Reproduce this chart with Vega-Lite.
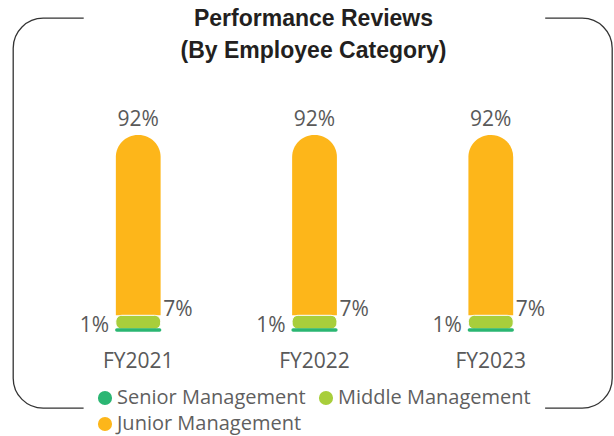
{
  "$schema": "https://vega.github.io/schema/vega-lite/v6.json",
  "width": 599,
  "height": 390,
  "autosize": {"type": "none"},
  "padding": {"left": 13, "top": 18, "right": 2, "bottom": 28},
  "background": "white",
  "title": {
    "text": ["Performance Reviews", "(By Employee Category)"],
    "anchor": "middle",
    "font": "Liberation Sans",
    "fontSize": 23,
    "fontWeight": "bold",
    "color": "#231F20",
    "lineHeight": 32,
    "baseline": "alphabetic",
    "offset": -63,
    "dx": 1
  },
  "data": {
    "values": [
      {"year": "FY2021", "category": "Senior Management", "value": 1},
      {"year": "FY2021", "category": "Middle Management", "value": 7},
      {"year": "FY2021", "category": "Junior Management", "value": 92},
      {"year": "FY2022", "category": "Senior Management", "value": 1},
      {"year": "FY2022", "category": "Middle Management", "value": 7},
      {"year": "FY2022", "category": "Junior Management", "value": 92},
      {"year": "FY2023", "category": "Senior Management", "value": 1},
      {"year": "FY2023", "category": "Middle Management", "value": 7},
      {"year": "FY2023", "category": "Junior Management", "value": 92}
    ]
  },
  "transform": [
    {"stack": "value", "groupby": ["year"], "sort": [{"field": "category", "order": "descending"}], "as": ["v0", "v1"]},
    {"calculate": "datum.value + '%'", "as": "label"}
  ],
  "encoding": {
    "x": {
      "field": "year",
      "type": "nominal",
      "scale": {"paddingInner": 0.746, "paddingOuter": 0.572, "align": 0.51},
      "axis": {
        "title": null,
        "domain": false,
        "ticks": false,
        "tickSize": 0,
        "labelPadding": 0,
        "labelAngle": 0,
        "labelBaseline": "alphabetic",
        "offset": -41,
        "labelFont": "Open Sans",
        "labelFontSize": 21,
        "labelColor": "#595959",
        "grid": false
      }
    },
    "y": {
      "field": "v1",
      "type": "quantitative",
      "scale": {"domain": [-39.29, 159.69], "nice": false, "zero": false},
      "axis": null
    }
  },
  "layer": [
    {
      "transform": [{"filter": "datum.category === 'Junior Management'"}],
      "mark": {"type": "bar", "cornerRadiusTopLeft": 22, "cornerRadiusTopRight": 22},
      "encoding": {
        "y": {"field": "v1", "type": "quantitative"},
        "y2": {"field": "v0"},
        "color": {
          "field": "category",
          "type": "nominal",
          "scale": {
            "domain": ["Senior Management", "Middle Management", "Junior Management"],
            "range": ["#2BB673", "#A8CE3B", "#FDB61A"]
          },
          "legend": {
            "orient": "none",
            "legendX": 82,
            "legendY": 370,
            "direction": "horizontal",
            "columns": 2,
            "title": null,
            "symbolType": "circle",
            "symbolSize": 200,
            "symbolStrokeWidth": 0,
            "symbolOpacity": 1,
            "labelFont": "Open Sans",
            "labelFontSize": 20,
            "labelColor": "#5f5f5f",
            "labelOffset": 2,
            "labelLimit": 400,
            "columnPadding": 10,
            "rowPadding": 6,
            "padding": 0
          }
        }
      }
    },
    {
      "transform": [{"filter": "datum.category === 'Middle Management'"}],
      "mark": {"type": "bar", "cornerRadius": 6, "stroke": "white", "strokeWidth": 1},
      "encoding": {
        "y": {"field": "v1", "type": "quantitative"},
        "y2": {"field": "v0"},
        "color": {"field": "category", "type": "nominal"}
      }
    },
    {
      "transform": [{"filter": "datum.category === 'Senior Management'"}],
      "mark": {"type": "bar", "cornerRadius": 2, "stroke": "#2BB673", "strokeWidth": 1.5},
      "encoding": {
        "y": {"field": "v1", "type": "quantitative"},
        "y2": {"field": "v0"},
        "color": {"field": "category", "type": "nominal"}
      }
    },
    {
      "transform": [{"filter": "datum.category === 'Junior Management'"}],
      "mark": {"type": "text", "font": "Open Sans", "fontSize": 21, "color": "#595959", "baseline": "alphabetic", "align": "center", "dy": -9},
      "encoding": {
        "y": {"field": "v1", "type": "quantitative"},
        "text": {"field": "label"}
      }
    },
    {
      "transform": [{"filter": "datum.category === 'Middle Management'"}],
      "mark": {"type": "text", "font": "Open Sans", "fontSize": 21, "color": "#595959", "baseline": "alphabetic", "align": "left", "dx": 25, "dy": 1},
      "encoding": {
        "y": {"field": "v1", "type": "quantitative"},
        "text": {"field": "label"}
      }
    },
    {
      "transform": [{"filter": "datum.category === 'Senior Management'"}],
      "mark": {"type": "text", "font": "Open Sans", "fontSize": 21, "color": "#595959", "baseline": "alphabetic", "align": "right", "dx": -29, "dy": 1},
      "encoding": {
        "y": {"field": "v0", "type": "quantitative"},
        "text": {"field": "label"}
      }
    }
  ],
  "config": {
    "view": {
      "stroke": "#333333",
      "strokeWidth": 1.3,
      "cornerRadius": 30,
      "strokeDash": [40.5, 461.5, 498.2, 461.5, 470, 0]
    }
  }
}
